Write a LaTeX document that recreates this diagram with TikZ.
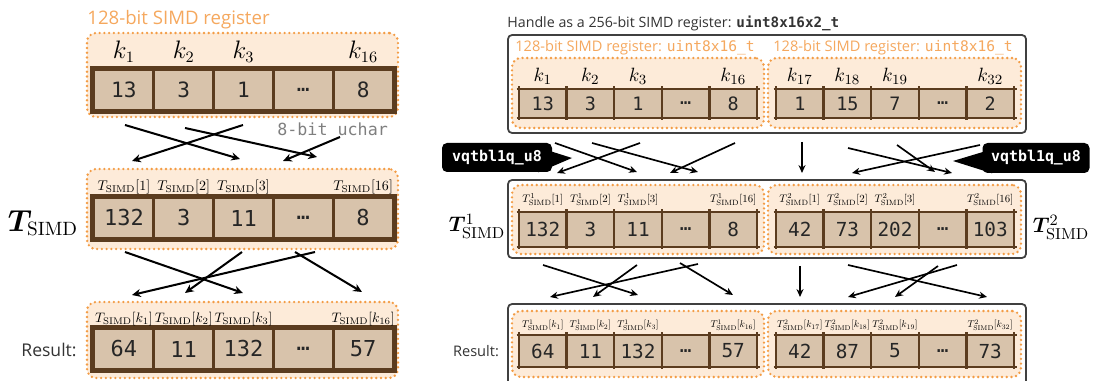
\documentclass[tikz,border=0pt]{standalone}
\usepackage{amsmath,bm}
\usepackage[no-math]{fontspec}
\setmainfont{Open Sans}
\newfontfamily\monofont{DejaVu Sans Mono}
\usetikzlibrary{arrows.meta,calc}
\newlength\pxu \setlength\pxu{0.02cm}

\definecolor{regorange}{HTML}{F39C45}
\definecolor{regpeach}{HTML}{FDEBD9}
\definecolor{celltan}{HTML}{D8C3AB}
\definecolor{cellbrown}{HTML}{5B3C1F}
\definecolor{titleorange}{HTML}{F5A85E}
\definecolor{framegray}{HTML}{404040}
\definecolor{textgray}{HTML}{333333}
\definecolor{uchargray}{HTML}{7F7F7F}

% small math label, set at 10pt and shrunk as a whole
\newcommand\tlab[2]{\scalebox{#1}{\fontsize{10}{10}\selectfont$#2$}}

% wide register: five cells, heavy frame
\newcommand\bigreg[4]{%
  \foreach \v [count=\i] in {#3}{
    \node[lcell, font=#4] (#1\i) at ({94+(\i-0.5)*59.8},{#2+20}) {\v};
  }
  \draw[lframe] (#11.north west) rectangle (#15.south east);
}
% narrow register: five cells, thin frame with small overhangs
\newcommand\smallreg[6]{%
  \foreach \v [count=\i] in {#5}{
    \node[scell, minimum height=#4\pxu, font=#6] (#1\i) at ({#2+(\i-0.5)*47.6},{#3+#4/2}) {\v};
  }
  \foreach \j in {0,...,5}{
    \draw[sframe] ({#2+\j*47.6},{#3-2.5}) -- ({#2+\j*47.6},{#3+#4+2.5});
  }
  \draw[sframe] ({#2-2.5},{#3}) -- ({#2+5*47.6+2.5},{#3});
  \draw[sframe] ({#2-2.5},{#3+#4}) -- ({#2+5*47.6+2.5},{#3+#4});
}

\begin{document}
\begin{tikzpicture}[x=0.02cm, y=-0.02cm,
  obox/.style={draw=regorange, fill=regpeach, line width=1.5pt,
    dash pattern=on 0pt off 2.7pt, line cap=round, rounded corners=9\pxu, inner sep=0pt},
  dbox/.style={draw=framegray, line width=1pt, rounded corners=4\pxu, fill=white, inner sep=0pt},
  lcell/.style={draw=cellbrown, fill=celltan, line width=1.6pt, minimum width=59.8\pxu,
    minimum height=40\pxu, inner sep=0pt, text=black!85},
  lframe/.style={draw=cellbrown, line width=2.6pt},
  scell/.style={fill=celltan, minimum width=47.6\pxu, inner sep=0pt, text=black!85},
  sframe/.style={draw=cellbrown, line width=1.3pt},
  otitle/.style={text=titleorange, inner sep=0pt},
  arr/.style={-{Stealth[length=5pt,width=4.6pt]}, line width=1.15pt},
  sarr/.style={-{Stealth[length=4.5pt,width=4pt]}, line width=0.95pt},
  callout/.style={fill=black, rounded corners=5\pxu, text=white, inner sep=0pt,
    font=\monofont\bfseries\fontsize{8.5}{9}\selectfont},
  lbl/.style={inner sep=0pt},
]
\clip (0,0) rectangle (1095,381);

% ---------------- left column: one 128-bit register ----------------
\node[otitle, anchor=west, font=\fontsize{10.6}{12}\selectfont] (ltitle) at (87,20) {128-bit SIMD register};

\node[obox, minimum width=311\pxu, minimum height=84\pxu] (LA) at (242.5,75) {};
\node[obox, minimum width=311\pxu, minimum height=80\pxu] (LB) at (242.5,209) {};
\node[obox, minimum width=311\pxu, minimum height=76\pxu] (LC) at (242.5,340) {};

\bigreg{A}{70}{13,3,1,…,8}{\monofont\fontsize{12}{12}\selectfont}
\bigreg{B}{198}{132,3,11,…,8}{\monofont\fontsize{12.5}{12}\selectfont}
\bigreg{C}{329}{64,11,132,…,57}{\monofont\fontsize{12.5}{12}\selectfont}

\foreach \i/\t in {1/1,2/2,3/3,5/16}
  \node[lbl, font=\fontsize{13.5}{13}\selectfont] (kA\i) at (A\i |- 0,52) {$k_{\t}$};
\foreach \i/\t in {1/1,2/2,3/3,5/16}
  \node[lbl] (tB\i) at (B\i |- 0,187) {\tlab{0.8}{T_{\mathrm{SIMD}}[\t]}};
\foreach \i/\t in {1/1,2/2,3/3,5/16}
  \node[lbl] (tC\i) at (C\i |- 0,319) {\tlab{0.78}{T_{\mathrm{SIMD}}[k_{\t}]}};

\node[lbl, text=uchargray, font=\monofont\fontsize{9.5}{10}\selectfont, anchor=west] (uchar) at (277,129) {8-bit uchar};
\node[lbl, font=\fontsize{16}{16}\selectfont] (TL) at (43,223) {$\bm{T}_{\mathrm{SIMD}}$};
\node[lbl, text=textgray, font=\fontsize{10}{10}\selectfont] (resL) at (49,350) {Result:};

\foreach \n/\a/\b/\c/\d in {1/125/125/240/159, 2/243/125/132/161, 3/185/128/317/157, 4/340/137/283/161,
                            5/125/252/243/293, 6/242/252/185/293, 7/315/252/132/295, 8/295/252/362/292}{
  \coordinate (ls\n) at (\a,\b); \coordinate (le\n) at (\c,\d);
  \draw[arr] (ls\n) -- (le\n);
}

% ---------------- right column: two registers handled as one ----------------
\node[lbl, anchor=west, text=textgray, font=\fontsize{8.1}{9}\selectfont] (rtitle) at (507,23)
  {Handle as a 256-bit SIMD register: {\monofont\bfseries uint8x16x2\_t}};

\node[dbox, minimum width=518\pxu, minimum height=98\pxu] (DA) at (767,84) {};
\node[dbox, minimum width=518\pxu, minimum height=78\pxu] (DB) at (767,219) {};
\node[dbox, minimum width=518\pxu, minimum height=84\pxu] (DC) at (767,346) {};

\foreach \r/\y/\h in {A/93/70, B/219.5/69, C/344/66}{
  \node[obox, minimum width=252\pxu, minimum height=\h\pxu] (O1\r) at (638,\y) {};
  \node[obox, minimum width=253\pxu, minimum height=\h\pxu] (O2\r) at (894.5,\y) {};
}

\node[otitle, anchor=west, font=\fontsize{8.3}{9}\selectfont] (ot1) at (515,48)
  {128-bit SIMD register: {\monofont uint8x16\_t}};
\node[otitle, anchor=west, font=\fontsize{8.3}{9}\selectfont] (ot2) at (773,48)
  {128-bit SIMD register: {\monofont uint8x16\_t}};

\smallreg{P}{519}{89}{29}{13,3,1,…,8}{\monofont\fontsize{10.5}{10}\selectfont}
\smallreg{Q}{776}{89}{29}{1,15,7,…,2}{\monofont\fontsize{10.5}{10}\selectfont}
\smallreg{R}{519}{212}{35}{132,3,11,…,8}{\monofont\fontsize{11}{10}\selectfont}
\smallreg{S}{776}{212}{35}{42,73,202,…,103}{\monofont\fontsize{11}{10}\selectfont}
\smallreg{U}{519}{335}{32}{64,11,132,…,57}{\monofont\fontsize{11}{10}\selectfont}
\smallreg{V}{776}{335}{32}{42,87,5,…,73}{\monofont\fontsize{11}{10}\selectfont}

\foreach \i/\t in {1/1,2/2,3/3,5/16}
  \node[lbl, font=\fontsize{11}{10}\selectfont] (kP\i) at (P\i |- 0,76) {$k_{\t}$};
\foreach \i/\t in {1/17,2/18,3/19,5/32}
  \node[lbl, font=\fontsize{11}{10}\selectfont] (kQ\i) at (Q\i |- 0,76) {$k_{\t}$};
\foreach \i/\t in {1/1,2/2,3/3,5/16}{
  \node[lbl] (tR\i) at (R\i |- 0,200) {\tlab{0.62}{T^{1}_{\mathrm{SIMD}}[\t]}};
  \node[lbl] (tS\i) at (S\i |- 0,200) {\tlab{0.62}{T^{2}_{\mathrm{SIMD}}[\t]}};
}
\foreach \i/\t/\u in {1/1/17,2/2/18,3/3/19,5/16/32}{
  \node[lbl] (tU\i) at (U\i |- 0,325) {\tlab{0.56}{T^{1}_{\mathrm{SIMD}}[k_{\t}]}};
  \node[lbl] (tV\i) at (V\i |- 0,325) {\tlab{0.56}{T^{2}_{\mathrm{SIMD}}[k_{\u}]}};
}

\node[lbl, font=\fontsize{13}{12}\selectfont] (T1) at (477,226) {$\bm{T}^{1}_{\mathrm{SIMD}}$};
\node[lbl, font=\fontsize{13}{12}\selectfont] (T2) at (1061,227) {$\bm{T}^{2}_{\mathrm{SIMD}}$};
\node[lbl, text=textgray, font=\fontsize{8.3}{9}\selectfont] (resR) at (476,351) {Result:};

% table-lookup callouts
\node[callout, minimum width=110\pxu, minimum height=29\pxu] (cl1) at (497,157.5) {vqtbl1q\_u8};
\coordinate (tip1) at (572,158);
\fill[black] ($(cl1.east)+(-4,-7)$) -- (tip1) -- ($(cl1.south east)+(-14,0)$) -- cycle;
\node[callout, minimum width=107\pxu, minimum height=30\pxu] (cl2) at (1036,158) {vqtbl1q\_u8};
\coordinate (tip2) at (953,161);
\fill[black] ($(cl2.west)+(4,-7)$) -- (tip2) -- ($(cl2.south west)+(10,0)$) -- cycle;

\foreach \n/\a/\b/\c/\d in {1/555/143/637/172, 2/640/143/557/173, 3/592/143/698/172, 4/735/143/670/173,
                            5/802/142/802/173, 6/848/148/952/173, 7/897/145/935/172, 8/980/145/852/173,
                            9/543/265/638/295, 10/637/265/593/297, 11/698/264/550/297, 12/680/263/733/295,
                            13/800/266/800/297, 14/848/265/987/297, 15/957/265/848/297, 16/938/266/895/297}{
  \coordinate (rs\n) at (\a,\b); \coordinate (re\n) at (\c,\d);
  \draw[sarr] (rs\n) -- (re\n);
}
\end{tikzpicture}
\end{document}
